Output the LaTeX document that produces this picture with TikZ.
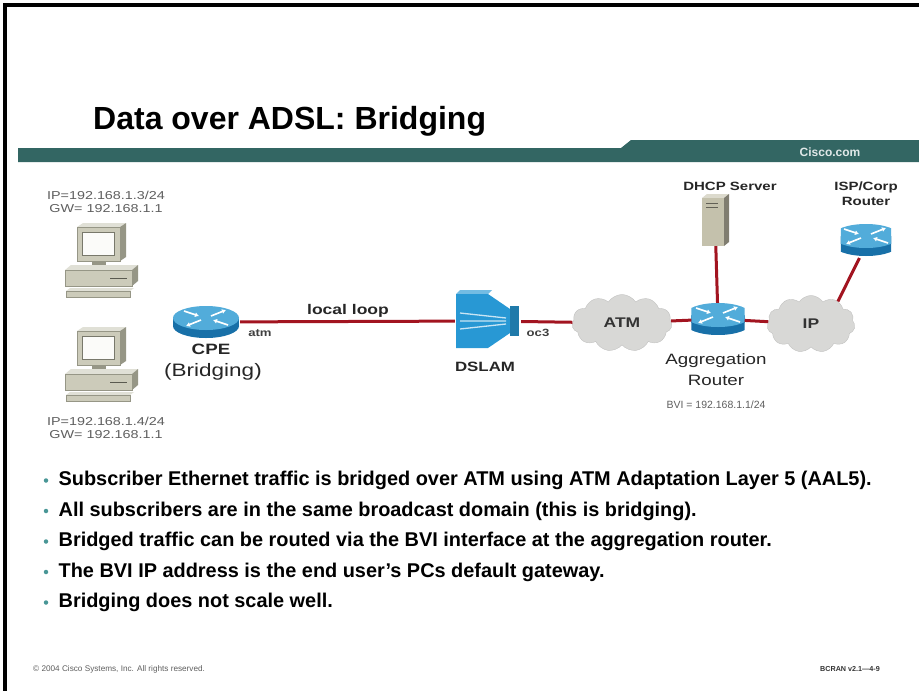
\documentclass[tikz,border=0pt]{standalone}
\usepackage{fontspec}
\setmainfont{Liberation Sans}
\newfontfamily\widesans[FakeStretch=1.25]{Liberation Sans}
\usepackage{tikz}
\usetikzlibrary{
  shapes.geometric,
  shapes.symbols,
  arrows.meta,
  positioning,
  backgrounds
}
\definecolor{BarTeal}{RGB}{51, 102, 99}
\definecolor{LinkRed}{RGB}{162, 20, 32}
\definecolor{RouterTop}{RGB}{82, 172, 218}
\definecolor{RouterSide}{RGB}{24, 112, 168}
\definecolor{CloudGray}{RGB}{216, 216, 214}
\definecolor{PcBeige}{RGB}{204, 203, 186}
\definecolor{PcShade}{RGB}{150, 150, 134}
\definecolor{SrvBeige}{RGB}{196, 193, 172}
\definecolor{DslamBlue}{RGB}{40, 152, 212}
\definecolor{DotTeal}{RGB}{72, 150, 150}
\definecolor{NoteGray}{RGB}{95, 95, 95}
\tikzset{
    link/.style={draw=LinkRed, line width=3pt},
    lbl/.style={font=\widesans\bfseries\fontsize{13}{15}\selectfont, text=black!85, inner sep=1pt, align=center},
    biglbl/.style={font=\widesans\fontsize{15}{21}\selectfont, text=black!85, inner sep=1pt, align=center},
    portlbl/.style={font=\widesans\bfseries\fontsize{10.5}{12}\selectfont, text=black!75, inner sep=1pt},
    tinylbl/.style={font=\fontsize{10.5}{12.5}\selectfont, text=NoteGray, inner sep=1pt, align=center},
    cloudnet/.style={cloud, cloud puffs=11, cloud puff arc=115, aspect=1.8,
        fill=CloudGray, draw=CloudGray!90!black, inner sep=0pt,
        minimum width=100pt, minimum height=57pt,
        font=\widesans\bfseries\fontsize{14}{16}\selectfont, text=black!80},
    router/.style 2 args={minimum width={68pt*#1}, minimum height={34pt*#2}, inner sep=0pt,
        path picture={
            \begin{scope}[shift={(path picture bounding box.center)}, xscale=#1, yscale=#2]
                \fill[RouterSide] (-33,-4) rectangle (33,4);
                \fill[RouterSide] (0,4) ellipse [x radius=33pt, y radius=12pt];
                \fill[RouterTop] (0,-4) ellipse [x radius=33pt, y radius=12pt];
                \draw[white, line width=1.6pt, -{Latex[length=4pt, width=5pt]}]
                    (-22,-11) -- (-7,-6);
                \draw[white, line width=1.6pt, -{Latex[length=4pt, width=5pt]}]
                    (22,3) -- (7,-2);
                \draw[white, line width=1.6pt, -{Latex[length=4pt, width=5pt]}]
                    (5,-6) -- (20,-12);
                \draw[white, line width=1.6pt, -{Latex[length=4pt, width=5pt]}]
                    (-5,-2) -- (-20,4);
            \end{scope}
        }},
    pc/.style={minimum width=80pt, minimum height=84pt, inner sep=0pt,
        path picture={
            \begin{scope}[shift={(path picture bounding box.center)}]
                % monitor
                \fill[PcBeige!60!white] (-23,-37) -- (-17,-41) -- (26,-41) -- (20,-37) -- cycle;
                \fill[PcShade] (20,-37) -- (26,-41) -- (26,-7) -- (20,-3) -- cycle;
                \fill[PcBeige, draw=PcShade, line width=0.6pt] (-23,-37) rectangle (20,-3);
                \fill[white!92!PcBeige, draw=PcShade!80!black, line width=0.6pt] (-18,-32) rectangle (14,-9);
                \fill[PcShade] (-8,-3) rectangle (6,1);
                % case
                \fill[PcBeige!60!white] (-35,6) -- (-29,1) -- (38,1) -- (32,6) -- cycle;
                \fill[PcShade] (32,6) -- (38,1) -- (38,17) -- (32,22) -- cycle;
                \fill[PcBeige, draw=PcShade, line width=0.6pt] (-35,6) rectangle (32,22);
                \draw[PcShade!60!black, line width=1pt] (10,14) -- (27,14);
                % keyboard plate
                \fill[PcBeige!60!white] (-34,27) -- (-30,24) -- (34,24) -- (30,27) -- cycle;
                \fill[PcBeige, draw=PcShade, line width=0.6pt] (-34,27) rectangle (30,33);
            \end{scope}
        }},
    server/.style={minimum width=30pt, minimum height=52pt, inner sep=0pt,
        path picture={
            \begin{scope}[shift={(path picture bounding box.center)}]
                \fill[SrvBeige!60!white] (-13,-22) -- (-8,-26) -- (14,-26) -- (9,-22) -- cycle;
                \fill[SrvBeige!65!black] (9,-22) -- (14,-26) -- (14,22) -- (9,26) -- cycle;
                \fill[SrvBeige] (-13,-22) rectangle (9,26);
                \draw[SrvBeige!50!black, line width=0.8pt] (-9,-17) -- (3,-17) (-9,-13) -- (3,-13);
            \end{scope}
        }},
    dslam/.style={minimum width=66pt, minimum height=64pt, inner sep=0pt,
        path picture={
            \begin{scope}[shift={(path picture bounding box.center)}]
                \fill[DslamBlue!65!white] (-32,-27) -- (-28,-31) -- (4,-31) -- (0,-27) -- cycle;
                \fill[DslamBlue] (-32,-27) -- (0,-27) -- (22,-12) -- (22,12) -- (0,27) -- (-32,27) -- cycle;
                \fill[DslamBlue!80!black] (22,-15) rectangle (31,15);
                \draw[white!75!DslamBlue, line width=1.3pt]
                    (-28,-8) -- (18,-3) (-28,0) -- (18,0) (-28,8) -- (18,3);
            \end{scope}
        }},
    bulletdot/.style={circle, fill=DotTeal, inner sep=0pt, minimum size=4.5pt},
    bullettext/.style={font=\bfseries\fontsize{19.9}{22}\selectfont, text=black, inner sep=0pt}
}

\begin{document}
\begin{tikzpicture}[x=1pt, y=-1pt]
    \fill[white] (0,0) rectangle (919,691);
    \useasboundingbox (0,0) rectangle (919,691);

    % slide frame and header
    \draw[line width=3.5pt] (5,691) -- (5,5) -- (919,5);
    \node[anchor=base west, inner sep=0pt, font=\bfseries\fontsize{32}{36}\selectfont] (title) at (93,129) {Data over ADSL: Bridging};
    \fill[BarTeal] (18,148) -- (621,148) -- (631,140) -- (919,140) -- (919,162) -- (18,162) -- cycle;
    \node[font=\bfseries\fontsize{12}{13}\selectfont, text=white!85!BarTeal] (site) at (830,152) {Cisco.com};

    % subscriber side
    \coordinate (bustop) at (157,222);
    \coordinate (busbot) at (157,411);
    \node[pc] (pc1) at (100,264) {};
    \node[pc] (pc2) at (100,368) {};
    \node[router={1}{1}] (cpe) at (206,322) {};
    \node[tinylbl, font=\widesans\fontsize{11.5}{12.5}\selectfont] (ip1) at (106,202) {IP=192.168.1.3/24\\GW= 192.168.1.1};
    \node[tinylbl, font=\widesans\fontsize{11.5}{12.5}\selectfont] (ip2) at (106,428) {IP=192.168.1.4/24\\GW= 192.168.1.1};

    % provider side
    \node[dslam] (dslam) at (488,321) {};
    \node[cloudnet] (atm) at (622,323) {ATM};
    \node[router={0.78}{0.94}] (agg) at (718,319) {};
    \node[cloudnet, minimum width=88pt] (ip) at (811,324) {IP};
    \node[server] (dhcp) at (715,220) {};
    \node[router={0.74}{1.05}] (isp) at (866,240) {};

    % links
    \coordinate (pc1port) at ([yshift=-11pt]pc1.east);
    \coordinate (pc2port) at ([yshift=-11pt]pc2.east);
    \begin{scope}[on background layer]
        \draw[link] (bustop) -- (busbot);
        \draw[link] (pc1port) -- (pc1port -| bustop);
        \draw[link] (pc2port) -- (pc2port -| bustop);
        \draw[link] (cpe.west -| bustop) -- (cpe);
    \end{scope}
    \draw[link] (cpe) -- (dslam);
    \draw[link] (dslam) -- (atm);
    \draw[link] (atm) -- (agg);
    \draw[link] (agg) -- (ip);
    \draw[link] (dhcp) -- (agg);
    \draw[link] (isp.250) -- (ip.40);

    % labels
    \node[portlbl] (atmport) at (260,333) {atm};
    \node[lbl, font=\widesans\bfseries\fontsize{14}{15}\selectfont] (loop) at (348,311) {local loop};
    \node[lbl, font=\widesans\bfseries\fontsize{15}{16}\selectfont] (cpelbl) at (211,349) {CPE};
    \node[biglbl, font=\widesans\fontsize{18}{20}\selectfont] (cpemode) at (213,372) {(Bridging)};
    \node[lbl, font=\widesans\bfseries\fontsize{13.5}{15}\selectfont] (dslamlbl) at (485,367) {DSLAM};
    \node[portlbl] (oc3) at (538,333) {oc3};
    \node[biglbl] (agglbl) at (716,370) {Aggregation\\Router};
    \node[tinylbl] (bvi) at (716,405) {BVI = 192.168.1.1/24};
    \node[lbl, font=\widesans\bfseries\fontsize{12}{13}\selectfont] (dhcplbl) at (730,186) {DHCP Server};
    \node[lbl, font=\widesans\bfseries\fontsize{12}{15}\selectfont] (isplbl) at (866,194) {ISP/Corp\\Router};

    % bullet points
    \foreach \txt [count=\i] in {%
        Subscriber Ethernet traffic is bridged over ATM using ATM Adaptation Layer 5 (AAL5).,
        All subscribers are in the same broadcast domain (this is bridging).,
        Bridged traffic can be routed via the BVI interface at the aggregation router.,
        The BVI IP address is the end user’s PCs default gateway.,
        Bridging does not scale well.}{
        \node[bulletdot] (dot\i) at (46,{450+30.5*\i}) {};
        \node[bullettext, right=10pt of dot\i] (point\i) {\txt};
    }

    % footer
    \node[anchor=base west, inner sep=0pt, font=\fontsize{8.2}{9}\selectfont, text=NoteGray] (copy) at (33,671) {© 2004 Cisco Systems, Inc. All rights reserved.};
    \node[anchor=base east, inner sep=0pt, font=\bfseries\fontsize{7.2}{8}\selectfont, text=black!80] (code) at (880,671) {BCRAN v2.1—4-9};
\end{tikzpicture}
\end{document}
